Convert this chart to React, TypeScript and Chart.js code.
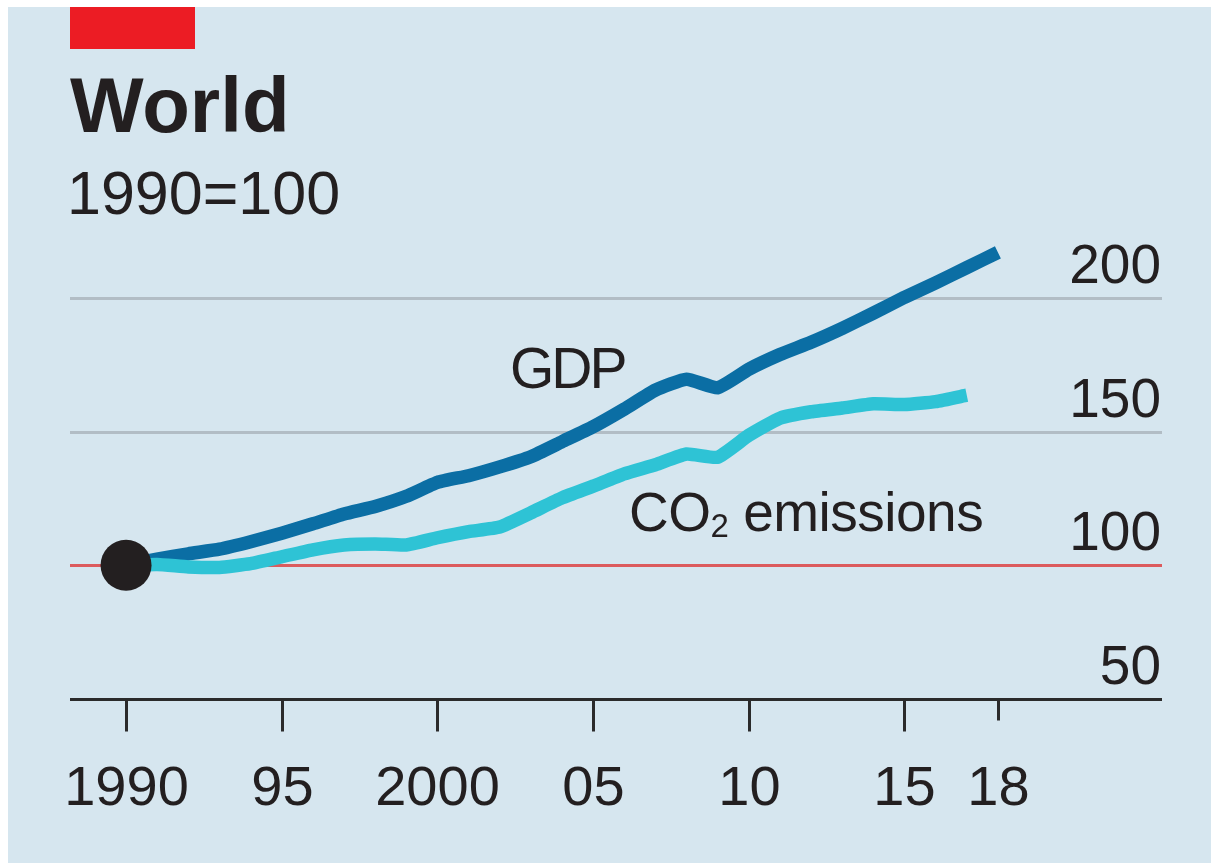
import React, { useEffect, useRef } from "react";
import { Chart, registerables } from "chart.js";

Chart.register(...registerables);

const years = [
  1990, 1991, 1992, 1993, 1994, 1995, 1996, 1997, 1998, 1999,
  2000, 2001, 2002, 2003, 2004, 2005, 2006, 2007, 2008, 2009,
  2010, 2011, 2012, 2013, 2014, 2015, 2016, 2017, 2018,
];
const gdp = [
  100, 102.3, 104.3, 106, 108.8, 112, 115.5, 119.2, 122, 125.8,
  131, 133.5, 136.8, 140.6, 146.2, 151.8, 158.4, 165.5, 169.6, 166.4,
  173.3, 178.8, 183.4, 188.6, 194.3, 200.2, 205.6, 211.3, 217,
];
const co2 = [
  100, 100.3, 99.4, 99.2, 100.6, 103.2, 105.8, 107.6, 108, 107.6,
  110.3, 112.6, 114.3, 119.6, 125.2, 129.6, 134.2, 137.6, 141.6, 140.4,
  148.6, 155, 157.4, 158.8, 160.4, 160.1, 161.2, 163.6,
];
const xTicks = [1990, 1995, 2000, 2005, 2010, 2015, 2018];
const xTickLabels = ["1990", "95", "2000", "05", "10", "15", "18"];
const yTicks = [50, 100, 150, 200];
const yTickLabels = ["50", "100", "150", "200"];

const TEXT = "#231f20";
const FONT = "'Liberation Sans', Arial, sans-serif";

const axisPlugin = {
  id: "economistAxes",
  beforeDatasetsDraw(chart: any) {
    const ctx = chart.ctx;
    const { left, right } = chart.chartArea;
    const xs = chart.scales.x;
    const ys = chart.scales.y;
    ctx.save();
    yTicks.forEach((v) => {
      const y = Math.round(ys.getPixelForValue(v)) + 0.5;
      if (v === 50) return;
      ctx.beginPath();
      ctx.lineWidth = 3;
      ctx.strokeStyle = v === 100 ? "#dc5b5d" : "#b2bdc5";
      ctx.moveTo(left, y);
      ctx.lineTo(right, y);
      ctx.stroke();
    });
    const ay = Math.round(ys.getPixelForValue(50)) + 0.5;
    ctx.beginPath();
    ctx.lineWidth = 3;
    ctx.strokeStyle = "#2b2b2b";
    ctx.moveTo(left, ay);
    ctx.lineTo(right, ay);
    ctx.stroke();
    ctx.fillStyle = TEXT;
    ctx.font = `56px ${FONT}`;
    ctx.textAlign = "center";
    ctx.textBaseline = "alphabetic";
    xTicks.forEach((t, i) => {
      const x = Math.round(xs.getPixelForValue(t)) + 0.5;
      const len = t === 2018 ? 21 : 32;
      ctx.beginPath();
      ctx.lineWidth = 3;
      ctx.strokeStyle = "#2b2b2b";
      ctx.moveTo(x, ay);
      ctx.lineTo(x, ay + len);
      ctx.stroke();
      ctx.fillText(xTickLabels[i], x, ay + 105);
    });
    ctx.font = `55px ${FONT}`;
    ctx.textAlign = "right";
    yTicks.forEach((v, i) => {
      const y = ys.getPixelForValue(v);
      ctx.fillText(yTickLabels[i], right - 1, y - 15);
    });
    ctx.restore();
  },
};

export default function App() {
  const ref = useRef<HTMLCanvasElement | null>(null);

  useEffect(() => {
    if (!ref.current) return;
    const chart = new Chart(ref.current, {
      type: "line",
      data: {
        datasets: [
          {
            label: "start",
            data: [{ x: years[0], y: gdp[0] }],
            showLine: false,
            pointRadius: 25.5,
            pointBackgroundColor: "#231f20",
            pointBorderWidth: 0,
          },
          {
            label: "CO2 emissions",
            data: co2.map((v, i) => ({ x: years[i], y: v })),
            borderColor: "#2ec3d5",
            borderWidth: 13.5,
            pointRadius: 0,
            tension: 0.15,
            borderJoinStyle: "round",
            borderCapStyle: "butt",
          },
          {
            label: "GDP",
            data: gdp.map((v, i) => ({ x: years[i], y: v })),
            borderColor: "#0b6ea4",
            borderWidth: 13.5,
            pointRadius: 0,
            tension: 0.15,
            borderJoinStyle: "round",
            borderCapStyle: "butt",
          },
        ],
      },
      options: {
        responsive: false,
        animation: false,
        devicePixelRatio: 1,
        layout: { padding: { left: 62, right: 49, top: 224, bottom: 164 } },
        plugins: { legend: { display: false }, tooltip: { enabled: false } },
        scales: {
          x: { type: "linear", display: false, min: 1988.2, max: 2023.27 },
          y: { type: "linear", display: false, min: 50, max: 225 },
        },
      },
      plugins: [axisPlugin],
    } as any);
    return () => chart.destroy();
  }, []);

  return (
    <div
      style={{
        position: "fixed",
        left: 8,
        top: 7,
        width: 1230,
        height: 880,
        background: "#d6e6ef",
        fontFamily: FONT,
        color: TEXT,
        overflow: "hidden",
      }}
    >
      <canvas ref={ref} width={1203} height={856} style={{ position: "absolute", left: 0, top: 0 }} />
      <div style={{ position: "absolute", left: 62, top: 0, width: 125, height: 42, background: "#ec1c24" }} />
      <div style={{ position: "absolute", left: 62, top: 59, fontSize: 78, lineHeight: "78px", fontWeight: 700, whiteSpace: "nowrap" }}>
        World
      </div>
      <div style={{ position: "absolute", left: 59, top: 156, fontSize: 61, lineHeight: "61px", whiteSpace: "nowrap" }}>
        1990=100
      </div>
      <div style={{ position: "absolute", left: 502, top: 333, fontSize: 57, lineHeight: "57px", letterSpacing: -3, whiteSpace: "nowrap" }}>
        GDP
      </div>
      <div style={{ position: "absolute", left: 621, top: 478, fontSize: 55, lineHeight: "55px", letterSpacing: -0.5, whiteSpace: "nowrap" }}>
        CO<span style={{ fontSize: 33, position: "relative", top: 6 }}>2</span> emissions
      </div>
    </div>
  );
}
